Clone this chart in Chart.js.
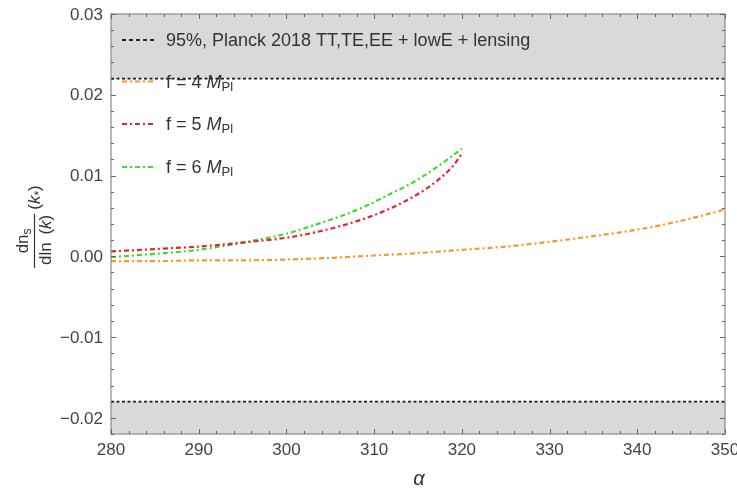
<!DOCTYPE html>
<html>
<head>
<meta charset="utf-8">
<script src="https://cdn.jsdelivr.net/npm/chart.js@4/dist/chart.umd.min.js"></script>
<style>
  html, body { margin: 0; padding: 0; background: #fff; }
  #wrap { width: 737px; height: 489px; position: relative; }
</style>
</head>
<body>
<div id="wrap"><canvas id="chart" width="737" height="489"></canvas></div>
<script>
// Values
const alpha4 = [280, 285, 290, 295, 300, 305, 310, 315, 320, 325, 330, 335, 340, 345, 350];
const run4 = [-0.0006, -0.0006, -0.0005, -0.0005, -0.0004, -0.0002, 0.0001, 0.0004, 0.0008, 0.0012, 0.0018, 0.0025, 0.0033, 0.0044, 0.0058];

const alpha56 = [280, 285, 290, 295, 300, 303, 306, 309, 312, 314, 316, 318, 319, 320];
const run5 = [0.0006, 0.0009, 0.0012, 0.0017, 0.0023, 0.0029, 0.0037, 0.0047, 0.0060, 0.0071, 0.0084, 0.0101, 0.0112, 0.0127];
const run6 = [-0.0001, 0.0003, 0.0008, 0.0017, 0.0028, 0.0038, 0.0049, 0.0062, 0.0078, 0.0089, 0.0102, 0.0117, 0.0125, 0.0133];

const planckUpper = 0.022;
const planckLower = -0.018;
const xRange = [280, 350];
const yRange = [-0.022, 0.03];

const xTickValues = [280, 290, 300, 310, 320, 330, 340, 350];
const xTickLabels = ['280', '290', '300', '310', '320', '330', '340', '350'];
const yTickValues = [-0.02, -0.01, 0, 0.01, 0.02, 0.03];
const yTickLabels = ['\u22120.02', '\u22120.01', '0.00', '0.01', '0.02', '0.03'];

const seriesNames = ['f = 4 ', 'f = 5 ', 'f = 6 '];
const seriesColors = ['#f39a2a', '#e8222f', '#3fdc2c'];
const bandLabel = '95%, Planck 2018 TT,TE,EE + lowE + lensing';

function zip(xs, ys) {
    return xs.map((v, i) => ({x: v, y: ys[i]}));
}

const dotDash = [5, 3, 2, 3];
const FONT = '"Liberation Sans", Arial, sans-serif';

// frame, ticks, labels, legend, axis titles
const decor = {
    id: 'decor',
    afterDatasetsDraw(chart) {
        const {ctx, chartArea: a, scales: {x, y}} = chart;
        ctx.save();

        // frame
        ctx.strokeStyle = '#8c8c8c';
        ctx.lineWidth = 1.2;
        ctx.strokeRect(a.left, a.top, a.right - a.left, a.bottom - a.top);

        // ticks on all four sides, pointing in
        ctx.strokeStyle = '#666';
        ctx.lineWidth = 1;
        ctx.beginPath();
        for (let v = xRange[0]; v <= xRange[1]; v += 2) {
            const px = Math.round(x.getPixelForValue(v)) + 0.5;
            const len = v % 10 === 0 ? 5 : 3;
            ctx.moveTo(px, a.bottom); ctx.lineTo(px, a.bottom - len);
            ctx.moveTo(px, a.top); ctx.lineTo(px, a.top + len);
        }
        for (let i = -11; i <= 15; i++) {
            const py = Math.round(y.getPixelForValue(i * 0.002)) + 0.5;
            const len = i % 5 === 0 ? 5 : 3;
            ctx.moveTo(a.left, py); ctx.lineTo(a.left + len, py);
            ctx.moveTo(a.right, py); ctx.lineTo(a.right - len, py);
        }
        ctx.stroke();

        // tick labels
        ctx.fillStyle = '#444';
        ctx.font = '17px ' + FONT;
        ctx.textAlign = 'center';
        ctx.textBaseline = 'alphabetic';
        xTickValues.forEach((v, i) => {
            ctx.fillText(xTickLabels[i], x.getPixelForValue(v), a.bottom + 21);
        });
        ctx.textAlign = 'right';
        ctx.textBaseline = 'middle';
        yTickValues.forEach((v, i) => {
            ctx.fillText(yTickLabels[i], a.left - 8, y.getPixelForValue(v) + 1);
        });

        // x title
        ctx.fillStyle = '#333';
        ctx.textAlign = 'center';
        ctx.textBaseline = 'alphabetic';
        ctx.font = 'italic 20px ' + FONT;
        ctx.fillText('\u03b1', (a.left + a.right) / 2 + 1, 485);

        // y title: dn_s / dln(k) (k_*)
        ctx.save();
        ctx.translate(34, 268);
        ctx.rotate(-Math.PI / 2);
        ctx.fillStyle = '#333';
        ctx.textAlign = 'left';
        ctx.font = '17px ' + FONT;
        const denA = 'dln ';
        const wA = ctx.measureText(denA).width;
        const wB = ctx.measureText('(').width;
        ctx.font = 'italic 17px ' + FONT;
        const wK = ctx.measureText('k').width;
        ctx.font = '17px ' + FONT;
        const wC = ctx.measureText(')').width;
        const barLen = wA + wB + wK + wC + 7;
        // denominator
        let u = 3;
        ctx.fillText(denA, u, 17); u += wA + 3;
        ctx.fillText('(', u, 17); u += wB;
        ctx.font = 'italic 17px ' + FONT;
        ctx.fillText('k', u, 17); u += wK;
        ctx.font = '17px ' + FONT;
        ctx.fillText(')', u, 17);
        // bar
        ctx.strokeStyle = '#333';
        ctx.lineWidth = 1.2;
        ctx.beginPath();
        ctx.moveTo(0, 0.5); ctx.lineTo(barLen, 0.5);
        ctx.stroke();
        // numerator
        const wN = ctx.measureText('dn').width;
        ctx.font = '12px ' + FONT;
        const wS = ctx.measureText('s').width;
        const n0 = (barLen - wN - wS) / 2;
        ctx.font = '17px ' + FONT;
        ctx.fillText('dn', n0, -6);
        ctx.font = '12px ' + FONT;
        ctx.fillText('s', n0 + wN, -3);
        // (k_*)
        let u2 = barLen + 4;
        ctx.font = '17px ' + FONT;
        ctx.fillText('(', u2, 6); u2 += ctx.measureText('(').width;
        ctx.font = 'italic 17px ' + FONT;
        ctx.fillText('k', u2, 6); u2 += ctx.measureText('k').width;
        ctx.font = '12px ' + FONT;
        ctx.fillText('*', u2, 9); u2 += ctx.measureText('*').width;
        ctx.font = '17px ' + FONT;
        ctx.fillText(')', u2, 6);
        ctx.restore();

        // legend
        const sx0 = a.left + 11, sx1 = a.left + 44, tx = a.left + 55;
        const rows = [40, 81.5, 124, 167];
        ctx.lineWidth = 1.8;
        ctx.strokeStyle = '#222';
        ctx.setLineDash([4, 3]);
        ctx.beginPath(); ctx.moveTo(sx0, rows[0]); ctx.lineTo(sx1, rows[0]); ctx.stroke();
        ctx.fillStyle = '#333';
        ctx.textAlign = 'left';
        ctx.textBaseline = 'alphabetic';
        ctx.font = '18px ' + FONT;
        ctx.fillText(bandLabel, tx, rows[0] + 6);
        seriesNames.forEach((name, i) => {
            const ry = rows[i + 1];
            ctx.strokeStyle = seriesColors[i];
            ctx.lineWidth = 2;
            ctx.setLineDash(dotDash);
            ctx.beginPath(); ctx.moveTo(sx0, ry); ctx.lineTo(sx1, ry); ctx.stroke();
            ctx.setLineDash([]);
            ctx.fillStyle = '#333';
            ctx.font = '18px ' + FONT;
            ctx.fillText(name, tx, ry + 6);
            let w = ctx.measureText(name).width;
            ctx.font = 'italic 18px ' + FONT;
            ctx.fillText('M', tx + w, ry + 6);
            w += ctx.measureText('M').width;
            ctx.font = '13px ' + FONT;
            ctx.fillText('Pl', tx + w, ry + 9);
        });
        ctx.restore();
    }
};

const bandStyle = {
    borderWidth: 0,
    pointRadius: 0,
    backgroundColor: '#d9d9d9',
    order: 10
};
const limitStyle = {
    borderColor: '#1a1a1a',
    borderWidth: 1.8,
    borderDash: [3, 2.5],
    pointRadius: 0,
    fill: false,
    order: 5
};
const curveStyle = {
    borderWidth: 2.2,
    borderDash: dotDash,
    pointRadius: 0,
    fill: false,
    tension: 0.4,
    cubicInterpolationMode: 'monotone',
    order: 1
};

new Chart(document.getElementById('chart'), {
    type: 'line',
    data: {
        datasets: [
            Object.assign({data: zip(xRange, [yRange[1], yRange[1]]), fill: {value: planckUpper}}, bandStyle),
            Object.assign({data: zip(xRange, [yRange[0], yRange[0]]), fill: {value: planckLower}}, bandStyle),
            Object.assign({data: zip(xRange, [planckUpper, planckUpper])}, limitStyle),
            Object.assign({data: zip(xRange, [planckLower, planckLower])}, limitStyle),
            Object.assign({data: zip(alpha4, run4), borderColor: seriesColors[0]}, curveStyle),
            Object.assign({data: zip(alpha56, run5), borderColor: seriesColors[1]}, curveStyle),
            Object.assign({data: zip(alpha56, run6), borderColor: seriesColors[2]}, curveStyle)
        ]
    },
    options: {
        responsive: false,
        animation: false,
        clip: false,
        layout: {padding: {top: 14, right: 12, left: 0, bottom: 0}},
        plugins: {legend: {display: false}, tooltip: {enabled: false}},
        scales: {
            x: {
                type: 'linear', min: xRange[0], max: xRange[1],
                grid: {display: false}, border: {display: false},
                ticks: {display: false},
                afterFit(s) { s.height = 55; }
            },
            y: {
                type: 'linear', min: yRange[0], max: yRange[1],
                grid: {display: false}, border: {display: false},
                ticks: {display: false},
                afterFit(s) { s.width = 111; }
            }
        }
    },
    plugins: [decor]
});
</script>
</body>
</html>
